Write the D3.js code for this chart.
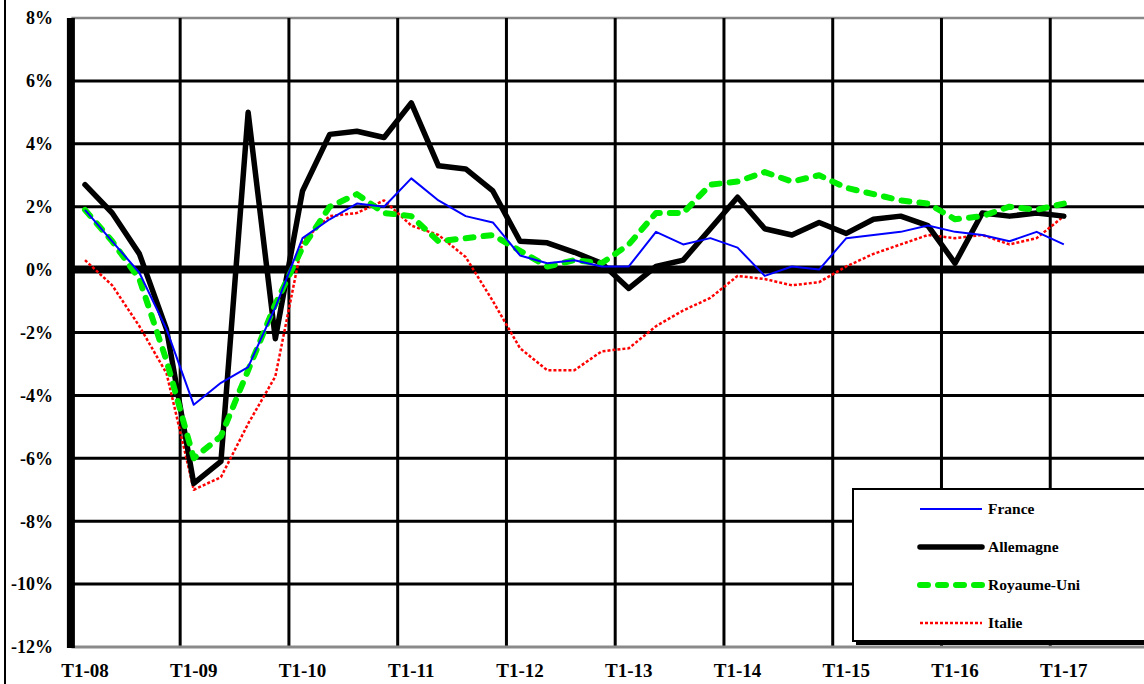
<!DOCTYPE html>
<html lang="fr">
<head>
<meta charset="utf-8">
<script src="https://cdn.jsdelivr.net/npm/d3@7"></script>
<style>
  html, body { margin: 0; padding: 0; background: #fff; }
  #chart { width: 1144px; height: 684px; overflow: hidden; }
  text { font-family: "Liberation Serif", "Times New Roman", serif; font-weight: bold; fill: #000; }
</style>
</head>
<body>
<div id="chart"></div>
<script>
// ── DATA ─────────────────────────────────────
const YEARS = ['08', '09', '10', '11', '12', '13', '14', '15', '16', '17'];
const QUARTERS = ['T1', 'T2', 'T3', 'T4'];

const Y_TICKS = [8, 6, 4, 2, 0, -2, -4, -6, -8, -10, -12];

// T1-08 .. T1-17, glissement annuel (%)
const FRANCE = [
  1.9, 0.9, -0.1, -1.9, -4.3, -3.6, -3.1, -1.2,
  1.0, 1.6, 2.1, 2.0, 2.9, 2.2, 1.7, 1.5,
  0.45, 0.2, 0.3, 0.1, 0.1, 1.2, 0.8, 1.0,
  0.7, -0.2, 0.1, 0.0, 1.0, 1.1, 1.2, 1.4,
  1.2, 1.1, 0.9, 1.2, 0.8
];

const ALLEMAGNE = [
  2.7, 1.8, 0.5, -1.9, -6.8, -6.1, 5.0, -2.2,
  2.5, 4.3, 4.4, 4.2, 5.3, 3.3, 3.2, 2.5,
  0.9, 0.85, 0.55, 0.2, -0.6, 0.1, 0.3, 1.3,
  2.3, 1.3, 1.1, 1.5, 1.15, 1.6, 1.7, 1.4,
  0.2, 1.8, 1.7, 1.8, 1.7
];

const ROYAUME_UNI = [
  1.9, 0.9, -0.3, -2.9, -6.0, -5.3, -3.2, -1.1,
  0.7, 2.0, 2.4, 1.8, 1.7, 0.9, 1.0, 1.1,
  0.6, 0.1, 0.3, 0.2, 0.8, 1.8, 1.8, 2.7,
  2.8, 3.1, 2.8, 3.0, 2.6, 2.4, 2.2, 2.1,
  1.6, 1.7, 2.0, 1.9, 2.1
];

const ITALIE = [
  0.3, -0.5, -1.8, -3.3, -7.0, -6.6, -4.9, -3.4,
  0.9, 1.7, 1.8, 2.2, 1.4, 1.1, 0.4, -1.0,
  -2.5, -3.2, -3.2, -2.6, -2.5, -1.8, -1.3, -0.9,
  -0.2, -0.3, -0.5, -0.4, 0.1, 0.5, 0.8, 1.1,
  1.0, 1.1, 0.8, 1.0, 1.7
];

const SERIES = [
  { name: 'France', values: FRANCE, color: '#0000ff', width: 2, dash: null, cap: 'butt' },
  { name: 'Allemagne', values: ALLEMAGNE, color: '#000000', width: 5.5, dash: null, cap: 'round' },
  { name: 'Royaume-Uni', values: ROYAUME_UNI, color: '#00ee00', width: 6, dash: '8,10', cap: 'round' },
  { name: 'Italie', values: ITALIE, color: '#ff0000', width: 2.5, dash: '3,2', cap: 'butt' }
];

// ── CATEGORIES ───────────────────────────────
const CATS = [];
YEARS.forEach(y => QUARTERS.forEach(q => CATS.push(`${q}-${y}`)));

// ── LAYOUT ───────────────────────────────────
const W = 1144;
const H = 684;
const M = { t: 18, l: 71.4, b: 647 };
const STEP = 27.19;

const svg = d3.select('#chart')
  .append('svg')
  .attr('width', W)
  .attr('height', H)
  .attr('viewBox', `0 0 ${W} ${H}`);

// ── SCALES ───────────────────────────────────
const x = d3.scaleBand()
  .domain(CATS)
  .range([M.l, M.l + STEP * CATS.length])
  .paddingInner(0)
  .paddingOuter(0);

const y = d3.scaleLinear()
  .domain([-12, 8])
  .range([M.b, M.t]);

const cx = c => x(c) + x.bandwidth() / 2;

// ── FRAME ────────────────────────────────────
svg.append('line')
  .attr('x1', 5).attr('x2', 5)
  .attr('y1', 0).attr('y2', H)
  .attr('stroke', '#000')
  .attr('stroke-width', 2);

// top border
svg.append('line')
  .attr('x1', M.l).attr('x2', W)
  .attr('y1', y(8)).attr('y2', y(8))
  .attr('stroke', '#888')
  .attr('stroke-width', 2.5);

// ── GRID ─────────────────────────────────────
const g = svg.append('g');

// vertical gridlines on year boundaries
const yearEdges = CATS.filter((c, i) => i > 0 && i % 4 === 0);
g.selectAll('.vgrid')
  .data(yearEdges)
  .enter()
  .append('line')
  .attr('class', 'vgrid')
  .attr('x1', d => x(d)).attr('x2', d => x(d))
  .attr('y1', y(8)).attr('y2', y(-12))
  .attr('stroke', '#000')
  .attr('stroke-width', 3);

// horizontal gridlines
g.selectAll('.hgrid')
  .data(Y_TICKS.filter(v => v !== 8 && v !== 0 && v !== -12))
  .enter()
  .append('line')
  .attr('class', 'hgrid')
  .attr('x1', M.l).attr('x2', W)
  .attr('y1', d => y(d)).attr('y2', d => y(d))
  .attr('stroke', '#000')
  .attr('stroke-width', 3);

// bottom axis line (gray)
g.append('line')
  .attr('x1', M.l).attr('x2', W)
  .attr('y1', y(-12)).attr('y2', y(-12))
  .attr('stroke', '#8a8a8a')
  .attr('stroke-width', 3);

// zero line
g.append('line')
  .attr('x1', M.l).attr('x2', W)
  .attr('y1', y(0)).attr('y2', y(0))
  .attr('stroke', '#000')
  .attr('stroke-width', 8);

// left axis
g.append('line')
  .attr('x1', M.l - 0.5).attr('x2', M.l - 0.5)
  .attr('y1', y(8)).attr('y2', y(-12) + 1)
  .attr('stroke', '#000')
  .attr('stroke-width', 8);

// ── AXES LABELS ──────────────────────────────
svg.append('g')
  .selectAll('text')
  .data(Y_TICKS)
  .enter()
  .append('text')
  .attr('x', 53)
  .attr('y', d => y(d))
  .attr('dy', '0.35em')
  .attr('text-anchor', 'end')
  .attr('font-size', 18)
  .text(d => d + '%');

svg.append('g')
  .selectAll('text')
  .data(CATS.filter(c => c.startsWith('T1')))
  .enter()
  .append('text')
  .attr('x', d => cx(d))
  .attr('y', 677)
  .attr('text-anchor', 'middle')
  .attr('font-size', 19)
  .text(d => d);

// ── LINES ────────────────────────────────────
const line = d3.line()
  .x((d, i) => cx(CATS[i]))
  .y(d => y(d));

// draw order: Italie below, Allemagne, Royaume-Uni, France on top
const order = ['Italie', 'Allemagne', 'Royaume-Uni', 'France'];
order.forEach(name => {
  const s = SERIES.find(d => d.name === name);
  svg.append('path')
    .datum(s.values)
    .attr('d', line)
    .attr('fill', 'none')
    .attr('stroke', s.color)
    .attr('stroke-width', s.width)
    .attr('stroke-linejoin', 'round')
    .attr('stroke-linecap', s.cap)
    .attr('stroke-dasharray', s.dash);
});

// ── LEGEND ───────────────────────────────────
const lg = svg.append('g');
const LX = 853;
const LY = 489;

lg.append('rect')
  .attr('x', LX + 3).attr('y', LY + 3)
  .attr('width', W).attr('height', 153)
  .attr('fill', '#000');

lg.append('rect')
  .attr('x', LX).attr('y', LY)
  .attr('width', W).attr('height', 152)
  .attr('fill', '#fff')
  .attr('stroke', '#000')
  .attr('stroke-width', 2);

SERIES.forEach((s, i) => {
  const yy = 509 + i * 38;
  lg.append('line')
    .attr('x1', 920).attr('x2', 982)
    .attr('y1', yy).attr('y2', yy)
    .attr('stroke', s.color)
    .attr('stroke-width', s.width)
    .attr('stroke-linecap', s.cap)
    .attr('stroke-dasharray', s.dash);

  lg.append('text')
    .attr('x', 988)
    .attr('y', yy)
    .attr('dy', '0.35em')
    .attr('font-size', 15.5)
    .text(s.name);
});
</script>
</body>
</html>
